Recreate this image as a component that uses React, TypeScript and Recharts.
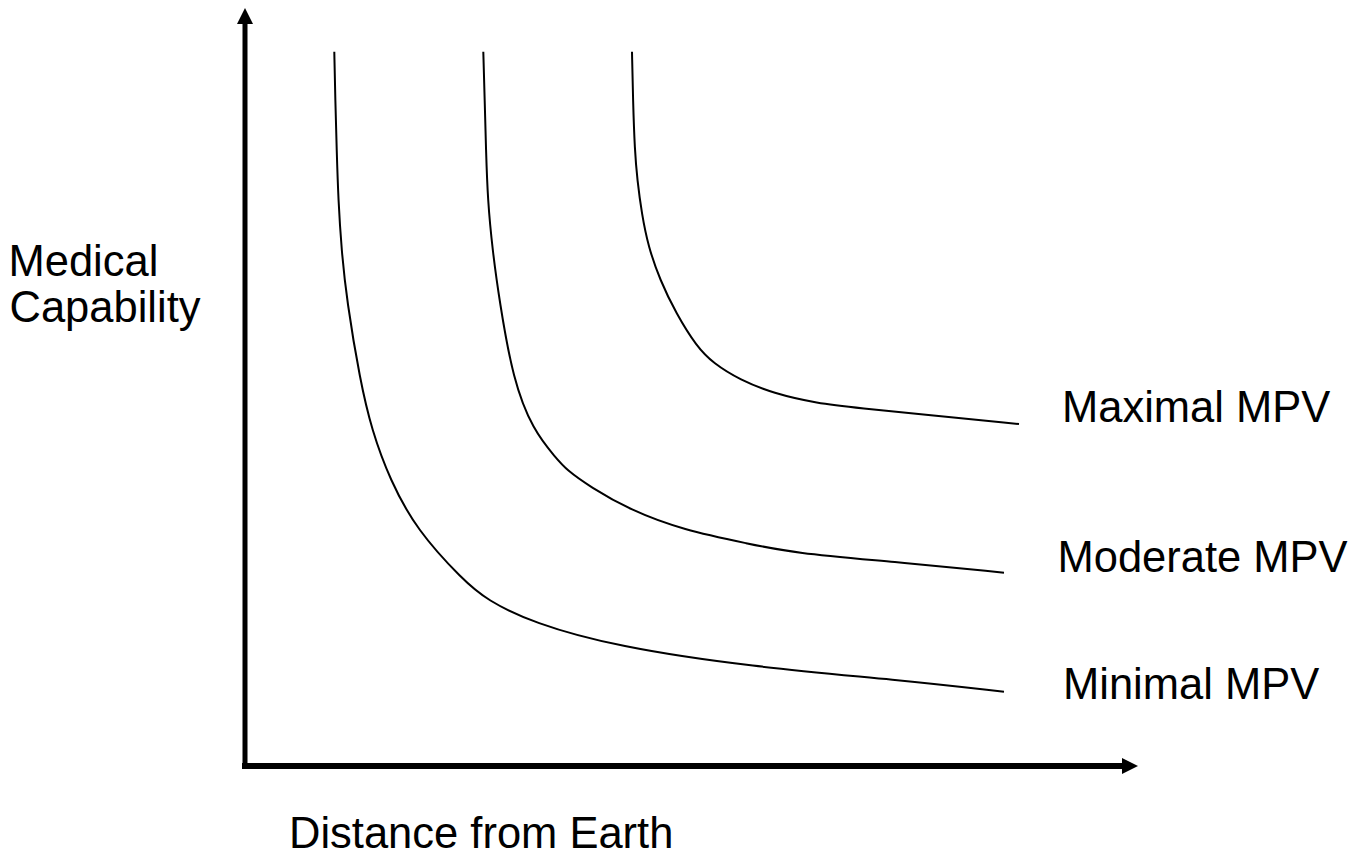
import React from "react";
import {
  LineChart,
  Line,
  XAxis,
  YAxis,
  ReferenceLine,
  ReferenceDot,
} from "recharts";

// conceptual units: distance from the y axis / capability above the x axis
const minimalMpv = [
  { x: 89.3, y: 714.3 },
  { x: 90.3, y: 666 },
  { x: 91.7, y: 616 },
  { x: 93.3, y: 566 },
  { x: 96.5, y: 516 },
  { x: 101.7, y: 466 },
  { x: 115, y: 386 },
  { x: 126.7, y: 336 },
  { x: 145, y: 286 },
  { x: 171.7, y: 236 },
  { x: 218, y: 186 },
  { x: 241.7, y: 166 },
  { x: 288, y: 143 },
  { x: 371.7, y: 119.3 },
  { x: 505, y: 99.3 },
  { x: 655, y: 86 },
  { x: 759, y: 74.3 },
];

const moderateMpv = [
  { x: 238.3, y: 714.3 },
  { x: 239.7, y: 666 },
  { x: 241, y: 616 },
  { x: 242.7, y: 566 },
  { x: 247.5, y: 516 },
  { x: 254.3, y: 466 },
  { x: 268, y: 386 },
  { x: 288, y: 336 },
  { x: 311, y: 308 },
  { x: 321.7, y: 296 },
  { x: 345, y: 279.3 },
  { x: 385, y: 256 },
  { x: 438, y: 236 },
  { x: 505, y: 222 },
  { x: 548, y: 213 },
  { x: 648, y: 204.3 },
  { x: 759, y: 193.3 },
];

const maximalMpv = [
  { x: 387, y: 714.3 },
  { x: 388, y: 666 },
  { x: 389.7, y: 616 },
  { x: 392.3, y: 586 },
  { x: 396.7, y: 552.7 },
  { x: 403.3, y: 519.3 },
  { x: 415, y: 486 },
  { x: 431, y: 452.7 },
  { x: 451.7, y: 419.3 },
  { x: 468.3, y: 402.7 },
  { x: 495, y: 386 },
  { x: 528.3, y: 372.7 },
  { x: 571.7, y: 362.7 },
  { x: 615, y: 358 },
  { x: 681.7, y: 351 },
  { x: 774, y: 342 },
];

const seriesNames = ["Minimal MPV", "Moderate MPV", "Maximal MPV"];
const yAxisTitle = ["Medical", "Capability"];
const xAxisTitle = "Distance from Earth";

const X_MAX = 893;
const Y_MAX = 758;

const font = "'Liberation Sans', Arial, sans-serif";
const textStyle = { fontFamily: font, fontSize: 43.5, fill: "#000" };

const RightArrow = (props: any) => {
  const { cx, cy } = props;
  return (
    <polygon
      points={`${cx},${cy} ${cx - 16},${cy - 8} ${cx - 16},${cy + 8}`}
      fill="#000"
    />
  );
};

const UpArrow = (props: any) => {
  const { cx, cy } = props;
  return (
    <polygon
      points={`${cx},${cy} ${cx - 8},${cy + 16} ${cx + 8},${cy + 16}`}
      fill="#000"
    />
  );
};

export default function App() {
  return (
    <div
      style={{
        position: "absolute",
        left: 0,
        top: 0,
        width: 1370,
        height: 858,
        background: "#fff",
      }}
    >
      <LineChart
        width={1370}
        height={858}
        margin={{ top: 8, right: 232, bottom: 92, left: 245 }}
      >
        <XAxis type="number" dataKey="x" domain={[0, X_MAX]} hide />
        <YAxis type="number" dataKey="y" domain={[0, Y_MAX]} hide />

        <ReferenceLine
          segment={[
            { x: 0, y: 0 },
            { x: 877, y: 0 },
          ]}
          stroke="#000"
          strokeWidth={6}
          strokeLinecap="square"
        />
        <ReferenceLine
          segment={[
            { x: 0, y: 0 },
            { x: 0, y: 742 },
          ]}
          stroke="#000"
          strokeWidth={5}
          strokeLinecap="square"
        />
        <ReferenceDot x={X_MAX} y={0} r={8} shape={RightArrow} />
        <ReferenceDot x={0} y={Y_MAX} r={8} shape={UpArrow} />

        <Line
          data={minimalMpv}
          dataKey="y"
          name={seriesNames[0]}
          type="basis"
          stroke="#000"
          strokeWidth={2}
          dot={false}
          activeDot={false}
          isAnimationActive={false}
        />
        <Line
          data={moderateMpv}
          dataKey="y"
          name={seriesNames[1]}
          type="basis"
          stroke="#000"
          strokeWidth={2}
          dot={false}
          activeDot={false}
          isAnimationActive={false}
        />
        <Line
          data={maximalMpv}
          dataKey="y"
          name={seriesNames[2]}
          type="basis"
          stroke="#000"
          strokeWidth={2}
          dot={false}
          activeDot={false}
          isAnimationActive={false}
        />

        <text x={8.5} y={275.7} style={textStyle}>
          {yAxisTitle[0]}
        </text>
        <text x={9.5} y={321.7} style={textStyle}>
          {yAxisTitle[1]}
        </text>
        <text x={289} y={848} style={textStyle}>
          {xAxisTitle}
        </text>
        <text x={1062} y={422} style={textStyle}>
          {seriesNames[2]}
        </text>
        <text x={1057.5} y={571.7} style={textStyle}>
          {seriesNames[1]}
        </text>
        <text x={1063} y={699} style={textStyle}>
          {seriesNames[0]}
        </text>
      </LineChart>
    </div>
  );
}
